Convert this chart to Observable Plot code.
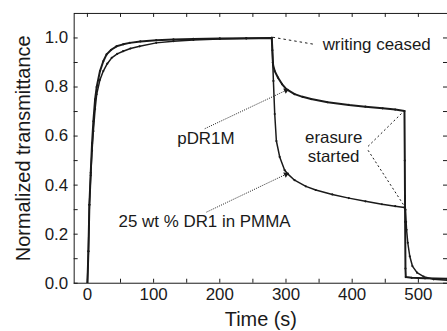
<!DOCTYPE html>
<html><head><meta charset="utf-8">
<script src="https://cdn.jsdelivr.net/npm/d3@7"></script>
<script src="https://cdn.jsdelivr.net/npm/@observablehq/plot@0.6"></script>
<style>html,body{margin:0;padding:0;overflow:hidden;background:#fff}</style>
</head><body><div id="chart"></div>
<script>
// ---- data ----
const pdr1mTime  = [0,1.5,3,5,7,9,11.6,14,19,24,29,36,44,54,64,80,104,130,160,200,240,278.5,279.5,280.5,283,288,294,300.5,313,325,338,363,395,420,446,465,479,479.5,480,480.5,481,490,510,544];
const pdr1mValue = [0,0.13,0.32,0.45,0.57,0.66,0.75,0.80,0.865,0.905,0.933,0.952,0.966,0.974,0.98,0.986,0.991,0.994,0.996,0.998,0.999,1.0,0.95,0.89,0.865,0.838,0.812,0.791,0.771,0.76,0.751,0.738,0.727,0.72,0.713,0.708,0.702,0.5,0.25,0.06,0.025,0.022,0.02,0.018];
const pmmaTime  = [0,1.5,3,5,7,9,11.6,14,19,24,30,36.7,45,54,65,79,104,130,160,200,240,278.5,280,281,283,285.5,290.5,298,303,313,330,345,370,395,420,445,465,479,480.5,481.5,482.2,484,487,491,498,508,523,544];
const pmmaValue = [0,0.13,0.32,0.44,0.54,0.62,0.71,0.77,0.83,0.865,0.895,0.919,0.935,0.946,0.957,0.966,0.98,0.987,0.992,0.996,0.998,1.0,0.9,0.825,0.69,0.58,0.515,0.461,0.445,0.42,0.395,0.38,0.362,0.347,0.334,0.322,0.314,0.309,0.30,0.25,0.218,0.165,0.11,0.07,0.043,0.027,0.016,0.012];

const xTickLabels = [0,100,200,300,400,500];
const xTickMarks = [0,50,100,150,200,250,300,350,400,450,500];
const yTickLabels = [0,0.2,0.4,0.6,0.8,1.0];
const yTickMarks = [0,0.1,0.2,0.3,0.4,0.5,0.6,0.7,0.8,0.9,1.0];

const labelText  = ["writing ceased","pDR1M","25 wt % DR1 in PMMA","erasure","started"];
const labelTime  = [437,179,177,372,372];
const labelValue = [0.972,0.59,0.25,0.593,0.518];

// leader lines: [t1, v1, t2, v2]
const ceasedLine  = [[279.8,1.003,345,0.973]];
const erasureLines = [[424,0.558,477.5,0.70],[424,0.542,477.5,0.32]];
const pointerLines = [[177.3,0.63,303,0.79],[180,0.29,303,0.448]];

// ---- layout ----
const W = 449, H = 331, mL = 74, mR = 0, mT = 13, mB = 47;
const xDomain = [-20,544], yDomain = [0,1.1];
const plotW = W - mL - mR, plotH = H - mT - mB;
const kx = plotW/(xDomain[1]-xDomain[0]), ky = plotH/(yDomain[1]-yDomain[0]);
const tickLen = 4;
const font = "Liberation Sans, Arial, Helvetica, sans-serif";
const ink = "#1a1a1a";

const pdr1m = pdr1mTime.map((t,i)=>({t, v: pdr1mValue[i]}));
const pmma = pmmaTime.map((t,i)=>({t, v: pmmaValue[i]}));
const labels = labelText.map((s,i)=>({s, t: labelTime[i], v: labelValue[i]}));
const toLink = a => a.map(([t1,v1,t2,v2])=>({t1,v1,t2,v2}));

// arrow heads as rotated filled triangles at the pointer tips
const heads = pointerLines.map(([t1,v1,t2,v2])=>{
  const dx = (t2-t1)*kx, dy = -(v2-v1)*ky;
  const len = Math.hypot(dx,dy);
  const ux = dx/len, uy = dy/len;
  const back = 2.2;
  return {t: t2 - ux*back/kx, v: v2 + uy*back/ky, r: Math.atan2(dx, -dy)*180/Math.PI};
});

const chart = Plot.plot({
  width: W, height: H,
  marginLeft: mL, marginRight: mR, marginTop: mT, marginBottom: mB,
  style: {fontFamily: font, background: "#fff", color: ink},
  x: {domain: xDomain, label: null},
  y: {domain: yDomain, label: null},
  marks: [
    Plot.frame({stroke: ink, strokeWidth: 1}),
    // inward ticks on all four sides
    Plot.tickX(xTickMarks, {x: d=>d, insetTop: plotH - tickLen, stroke: ink}),
    Plot.tickX(xTickMarks, {x: d=>d, insetBottom: plotH - tickLen, stroke: ink}),
    Plot.tickY(yTickMarks, {y: d=>d, insetRight: plotW - tickLen, stroke: ink}),
    Plot.tickY(yTickMarks, {y: d=>d, insetLeft: plotW - tickLen, stroke: ink}),
    Plot.axisX(xTickLabels, {tickSize: 0, tickPadding: 5, fontSize: 17, fill: ink, label: null}),
    Plot.axisY(yTickLabels, {tickSize: 0, tickPadding: 6, fontSize: 17, fill: ink, tickFormat: d3.format(".1f"), label: null}),
    Plot.text(["Time (s)"], {text: d=>d, frameAnchor: "bottom", dy: 37, textAnchor: "middle", lineAnchor: "middle", fontSize: 20, fill: ink}),
    Plot.text(["Normalized transmittance"], {text: d=>d, frameAnchor: "left", dx: -51, rotate: -90, textAnchor: "middle", lineAnchor: "middle", fontSize: 20, fill: ink}),
    // data
    Plot.line(pmma, {x: "t", y: "v", stroke: ink, strokeWidth: 1.5, clip: true}),
    Plot.dot(pmma, {x: "t", y: "v", r: 1.1, fill: ink, clip: true}),
    Plot.line(pdr1m, {x: "t", y: "v", stroke: ink, strokeWidth: 2, clip: true}),
    Plot.dot(pdr1m, {x: "t", y: "v", r: 1.1, fill: ink, clip: true}),
    // annotations
    Plot.link(toLink(ceasedLine), {x1: "t1", y1: "v1", x2: "t2", y2: "v2", stroke: ink, strokeWidth: 1, strokeDasharray: "2.5,3"}),
    Plot.link(toLink(erasureLines), {x1: "t1", y1: "v1", x2: "t2", y2: "v2", stroke: ink, strokeWidth: 1, strokeDasharray: "2,2.5"}),
    Plot.link(toLink(pointerLines), {x1: "t1", y1: "v1", x2: "t2", y2: "v2", stroke: ink, strokeWidth: 1, strokeDasharray: "1,1.3"}),
    Plot.dot(heads, {x: "t", y: "v", rotate: "r", symbol: "triangle2", r: 2.8, fill: ink, stroke: "none"}),
    Plot.text(labels, {x: "t", y: "v", text: "s", textAnchor: "middle", fontSize: 17, fill: ink, lineAnchor: "middle"})
  ]
});
document.getElementById("chart").appendChild(chart);
</script>
</body></html>
